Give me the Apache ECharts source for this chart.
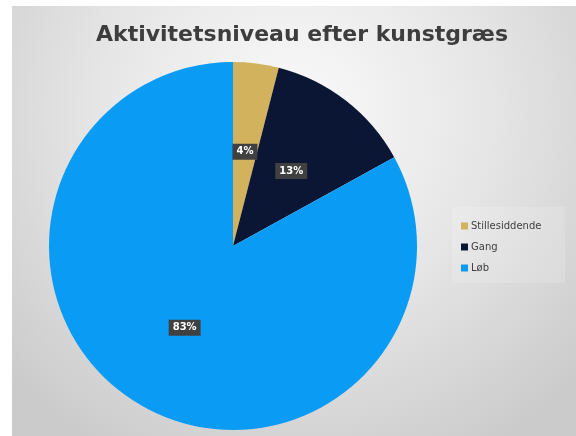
<!DOCTYPE html>
<html>
<head>
<meta charset="utf-8">
<script src="https://cdn.jsdelivr.net/npm/echarts@6/dist/echarts.min.js"></script>
<style>html,body{margin:0;padding:0;background:#fff;}#c{width:576px;height:436px;}</style>
</head>
<body>
<div id="c"></div>
<script>
const titleText = 'Aktivitetsniveau efter kunstgræs';
const categories = ['Stillesiddende', 'Gang', 'Løb'];
const values = [4, 13, 83];
const colors = ['#D2B25C', '#0A1633', '#0A9BF5'];

const chart = echarts.init(document.getElementById('c'));
chart.setOption({
  animation: false,
  backgroundColor: '#ffffff',
  graphic: [
    {
      type: 'rect', z: -10, silent: true,
      shape: { x: 12, y: 6, width: 564, height: 430 },
      style: {
        fill: new echarts.graphic.RadialGradient(0.5, 0.25, 0.9, [
          { offset: 0, color: '#fafafa' },
          { offset: 0.5, color: '#e6e6e6' },
          { offset: 1, color: '#cbcbcb' }
        ])
      }
    },
    {
      type: 'rect', z: -9, silent: true,
      shape: { x: 452, y: 207, width: 113, height: 76 },
      style: { fill: 'rgba(255,255,255,0.15)' }
    }
  ],
  title: {
    text: titleText,
    left: 297, top: 19, textAlign: 'center',
    textStyle: { fontFamily: 'DejaVu Sans', fontWeight: 'bold', fontSize: 22, color: '#3d3d3d' }
  },
  legend: {
    orient: 'vertical',
    left: 456, top: 216,
    itemWidth: 7, itemHeight: 7, itemGap: 11,
    icon: 'rect',
    data: categories,
    textStyle: { fontFamily: 'DejaVu Sans', fontSize: 10, color: '#404040', padding: [0, 0, 0, -2] }
  },
  series: [{
    type: 'pie',
    center: [233, 246],
    radius: [0, 184],
    startAngle: 90,
    clockwise: true,
    data: categories.map((c, i) => ({ name: c, value: values[i], itemStyle: { color: colors[i] } })),
    label: {
      show: true,
      position: 'inside',
      formatter: p => p.value + '%',
      color: '#ffffff',
      fontFamily: 'DejaVu Sans',
      fontWeight: 'bold',
      fontSize: 10,
      backgroundColor: '#404040',
      padding: [3, 4]
    },
    labelLine: { show: false },
    itemStyle: { borderWidth: 0 }
  }]
});
</script>
</body>
</html>
